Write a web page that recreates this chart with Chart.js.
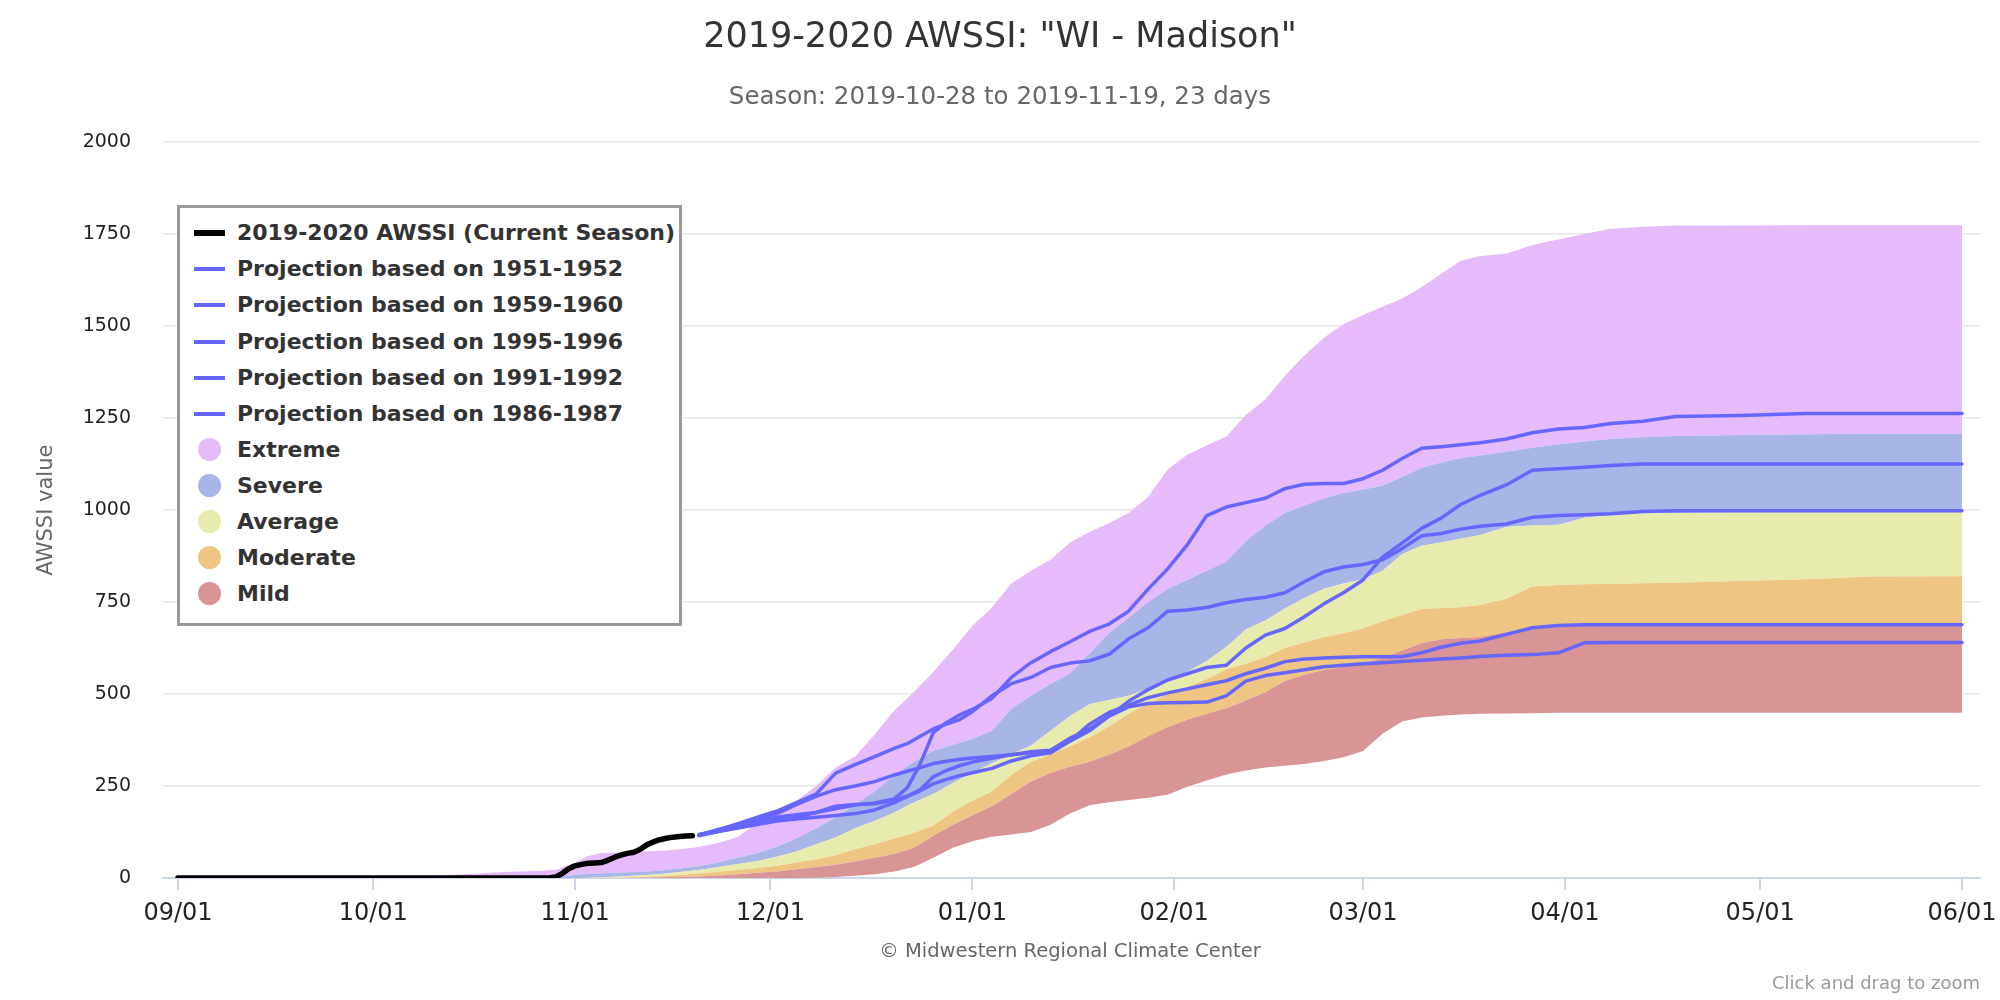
<!DOCTYPE html>
<html><head><meta charset="utf-8">
<script src="https://cdn.jsdelivr.net/npm/chart.js@4.4.1/dist/chart.umd.min.js"></script>
<style>
html,body{margin:0;padding:0;background:#fff;}
#wrap{position:relative;width:2000px;height:1000px;font-family:"DejaVu Sans",sans-serif;overflow:hidden;background:#fff;}
#c{position:absolute;left:0;top:0;}
.t{position:absolute;white-space:nowrap;}
#legend{position:absolute;left:177px;top:205px;width:505px;height:421px;box-sizing:border-box;border:3px solid #999;background:#fff;}
.row{position:absolute;left:0;height:36px;width:490px;}
.row .lbl{position:absolute;left:57px;top:0;line-height:36px;font-size:22px;font-weight:bold;color:#333;white-space:nowrap;}
.row .ln{position:absolute;left:14px;width:31px;}
.row .dot{position:absolute;left:18px;top:6.5px;width:23px;height:23px;border-radius:50%;}
</style></head><body>
<div id="wrap">
<canvas id="c" width="2000" height="1000" style="width:2000px;height:1000px"></canvas>
<div class="t" style="left:0;width:2000px;text-align:center;top:18px;font-size:35px;line-height:35px;color:#333">2019-2020 AWSSI: "WI - Madison"</div>
<div class="t" style="left:0;width:2000px;text-align:center;top:84px;font-size:24.5px;line-height:24px;color:#666">Season: 2019-10-28 to 2019-11-19, 23 days</div>
<div class="t" style="left:-55px;top:498px;width:200px;text-align:center;font-size:21px;line-height:24px;color:#666;transform:rotate(-90deg);">AWSSI value</div>
<div class="t" style="left:770px;width:600px;text-align:center;top:941px;font-size:19.5px;line-height:19px;color:#666">© Midwestern Regional Climate Center</div>
<div class="t" style="right:20px;top:974px;font-size:18px;line-height:18px;color:#999">Click and drag to zoom</div>
<div id="legend"></div>
</div>
<script>
// ---- axis ticks ----
const monthStarts = [0, 30, 61, 91, 122, 153, 182, 213, 243, 274];
const tickLabels = ["09/01", "10/01", "11/01", "12/01", "01/01", "02/01", "03/01", "04/01", "05/01", "06/01"];
const yTicks = [0, 250, 500, 750, 1000, 1250, 1500, 1750, 2000];

// ---- current season (days since 09/01) ----
const curDays = [0, 57, 58, 59, 60, 61, 62, 63, 64, 65, 66, 67, 68, 69, 70, 71, 72, 73, 74, 75, 76, 77, 78, 79];
const curVals = [0, 0, 3, 12, 25, 33, 37, 40, 41, 42, 48, 56, 62, 67, 70, 78, 90, 98, 104, 108, 111, 113, 114, 115];

// ---- climatology bands (days since 09/01) ----
const bandDays = [0, 30, 38, 44, 50, 56, 58, 61, 63, 65, 68, 70, 72, 75, 77, 80, 83, 86, 89, 92, 95, 98, 101, 104, 107, 110, 113, 116, 119, 122, 125, 128, 131, 134, 137, 140, 143, 146, 149, 152, 155, 158, 161, 164, 167, 170, 173, 176, 179, 182, 185, 188, 191, 194, 197, 200, 204, 208, 212, 216, 220, 225, 230, 240, 250, 260, 274];
const mildLow  = [0,0,0,0,0,0,0,0,0,0,0,0,0,0,0,0,0,0,0,0,0,1,3,6,10,18,30,55,82,100,112,118,125,145,175,198,206,212,218,226,248,265,281,292,300,305,310,318,328,345,392,425,436,441,444,446,447,448,449,449,449,449,449,449,449,449,449];
const mildHigh = [0,0,0,0,0,0,0,0,0,0,0,0,1,2,3,4,7,10,14,18,24,30,36,45,55,65,82,115,145,170,195,228,262,285,302,316,335,357,385,410,430,446,461,482,505,535,552,566,574,583,598,618,638,649,652,655,668,682,687,688,688,688,688,688,688,688,688];
const modHigh  = [0,0,0,0,0,0,0,0,0,0,1,2,3,6,8,12,17,22,27,33,42,50,62,78,92,107,122,142,180,210,235,280,315,336,358,382,412,446,475,500,520,540,567,582,600,625,640,654,665,678,698,715,731,734,736,742,758,792,796,798,799,801,802,807,812,819,820];
const avgHigh  = [0,0,0,0,0,0,0,0,1,2,4,6,8,12,16,22,30,38,46,58,72,92,110,135,155,178,205,228,258,285,312,336,360,400,440,472,484,495,515,537,560,590,628,675,700,732,761,786,800,812,835,880,903,912,922,932,954,958,960,979,986,991,992,994,995,996,996];
const sevHigh  = [0,0,0,0,0,0,1,9,11,13,15,16,18,22,26,32,42,55,68,85,108,135,165,200,235,280,315,346,362,378,400,460,495,527,556,610,665,708,750,785,810,835,860,915,958,992,1012,1032,1046,1056,1066,1090,1115,1129,1141,1148,1158,1169,1178,1186,1193,1198,1201,1204,1206,1207,1207];
const extHigh  = [0,0,5,10,16,20,22,42,60,68,70,72,73,75,78,84,95,112,150,183,210,250,300,330,390,455,505,560,620,685,735,800,835,865,912,940,965,992,1035,1110,1150,1175,1200,1258,1300,1365,1420,1468,1505,1530,1552,1575,1605,1642,1677,1690,1696,1720,1735,1750,1764,1770,1773,1773,1774,1774,1774];

// ---- projections (days since 09/01) ----
const projDays = [80, 83, 86, 89, 92, 95, 98, 101, 104, 107, 110, 112, 114, 116, 118, 120, 122, 125, 128, 131, 134, 137, 140, 143, 146, 149, 152, 155, 158, 161, 164, 167, 170, 173, 176, 179, 182, 185, 188, 191, 194, 197, 200, 204, 208, 212, 216, 220, 225, 230, 240, 250, 274];
const proj1951 = [118,128,140,152,165,172,178,188,198,204,215,245,310,395,422,443,458,488,545,585,615,642,670,690,725,785,840,905,985,1008,1020,1032,1058,1070,1072,1072,1085,1108,1140,1168,1172,1177,1183,1193,1210,1220,1224,1235,1241,1254,1257,1262,1262];
const proj1959 = [116,127,138,150,158,165,178,195,200,202,212,222,237,256,268,278,286,298,318,332,340,372,400,440,480,512,538,555,572,578,625,660,678,710,745,775,810,872,910,950,978,1015,1040,1068,1108,1112,1116,1121,1125,1125,1125,1125,1125];
const proj1995 = [117,130,148,165,182,205,228,285,308,330,352,365,385,405,418,430,452,495,528,545,572,584,590,608,650,680,725,728,735,748,757,763,775,805,832,845,852,865,895,930,936,948,956,962,980,985,987,990,996,998,998,998,998];
const proj1991 = [117,132,146,158,175,200,222,240,250,262,280,290,300,311,317,322,326,330,335,340,346,372,418,450,470,490,503,514,525,536,555,570,588,595,598,600,601,601,601,612,627,638,644,662,680,686,688,688,688,688,688,688,688];
const proj1986 = [115,126,136,145,155,160,165,170,175,185,205,222,240,275,292,305,315,325,335,343,347,380,405,440,465,474,476,477,478,495,535,550,558,566,574,578,582,585,588,592,595,598,602,605,607,612,639,640,640,640,640,640,640];

const projLabels = ["Projection based on 1951-1952", "Projection based on 1959-1960", "Projection based on 1995-1996", "Projection based on 1991-1992", "Projection based on 1986-1987"];
const projSeries = [proj1951, proj1959, proj1995, proj1991, proj1986];
const bandLabels = ["Extreme", "Severe", "Average", "Moderate", "Mild"];
const bandColors = ["#e6bbfc", "#a8b5e7", "#e7ebad", "#eec583", "#d99595"];
const projColor = "#6666ff";

const pts = (xs, ys) => xs.map((x, i) => ({x: x, y: ys[i]}));

const datasets = [];
datasets.push({label: "2019-2020 AWSSI (Current Season)", data: pts(curDays, curVals), borderColor: "#000", borderWidth: 5.5, pointRadius: 0, fill: false, borderCapStyle: "round", borderJoinStyle: "round"});
projSeries.forEach((s, i) => datasets.push({label: projLabels[i], data: pts(projDays, s), borderColor: projColor, borderWidth: 3.5, pointRadius: 0, fill: false, borderCapStyle: "round", borderJoinStyle: "round"}));
const bandBase = datasets.length;
datasets.push({label: "base", data: pts(bandDays, mildLow), borderWidth: 0, pointRadius: 0, fill: false});
const bandTops = [mildHigh, modHigh, avgHigh, sevHigh, extHigh];
const bandOrder = ["Mild", "Moderate", "Average", "Severe", "Extreme"];
bandTops.forEach((s, i) => {
  const ci = bandLabels.indexOf(bandOrder[i]);
  datasets.push({label: bandOrder[i], data: pts(bandDays, s), borderWidth: 0, borderColor: "rgba(0,0,0,0)", pointRadius: 0, backgroundColor: bandColors[ci], fill: bandBase + i});
});

new Chart(document.getElementById("c"), {
  type: "line",
  data: {datasets: datasets},
  options: {
    responsive: false, animation: false, devicePixelRatio: 1,
    parsing: false, normalized: true,
    layout: {padding: {left: 0, right: 20, top: 142, bottom: 0}},
    plugins: {legend: {display: false}, tooltip: {enabled: false}, title: {display: false}},
    elements: {line: {tension: 0}, point: {radius: 0}},
    scales: {
      x: {
        type: "linear", min: -2.3, max: 276.76,
        afterFit: s => { s.height = 122; s.paddingLeft = 0; s.paddingRight = 0; },
        afterBuildTicks: s => { s.ticks = monthStarts.map(v => ({value: v})); },
        ticks: {autoSkip: false, maxRotation: 0, minRotation: 0, padding: 9, color: "#222",
          font: {family: "DejaVu Sans", size: 24},
          callback: v => { const i = monthStarts.indexOf(v); return i < 0 ? "" : tickLabels[i]; }},
        grid: {drawOnChartArea: false, drawTicks: true, tickLength: 12, color: "#ccd6eb", lineWidth: 2},
        border: {display: true, color: "#ccd6eb", width: 2}
      },
      y: {
        type: "linear", min: 0, max: 2000,
        afterFit: s => { s.width = 163; },
        afterBuildTicks: s => { s.ticks = yTicks.map(v => ({value: v})); },
        ticks: {padding: 32, color: "#222", font: {family: "DejaVu Sans", size: 19}, callback: v => String(v)},
        grid: {drawTicks: false, color: "#e6e6e6", lineWidth: 1.5},
        border: {display: false}
      }
    }
  }
});

// ---- legend (HTML, real text) ----
const lg = document.getElementById("legend");
const items = [{t: "2019-2020 AWSSI (Current Season)", k: "line", c: "#000", h: 6}]
  .concat(projLabels.map(t => ({t: t, k: "line", c: projColor, h: 4})))
  .concat(bandLabels.map((t, i) => ({t: t, k: "dot", c: bandColors[i]})));
items.forEach((it, i) => {
  const r = document.createElement("div");
  r.className = "row";
  r.style.top = (25.4 + 36.04 * i - 18) + "px";
  const sym = document.createElement("div");
  if (it.k === "line") {
    sym.className = "ln";
    sym.style.height = it.h + "px";
    sym.style.top = (18 - it.h / 2) + "px";
  } else {
    sym.className = "dot";
  }
  sym.style.background = it.c;
  const l = document.createElement("div");
  l.className = "lbl";
  l.textContent = it.t;
  r.appendChild(sym); r.appendChild(l);
  lg.appendChild(r);
});
</script>
</body></html>
